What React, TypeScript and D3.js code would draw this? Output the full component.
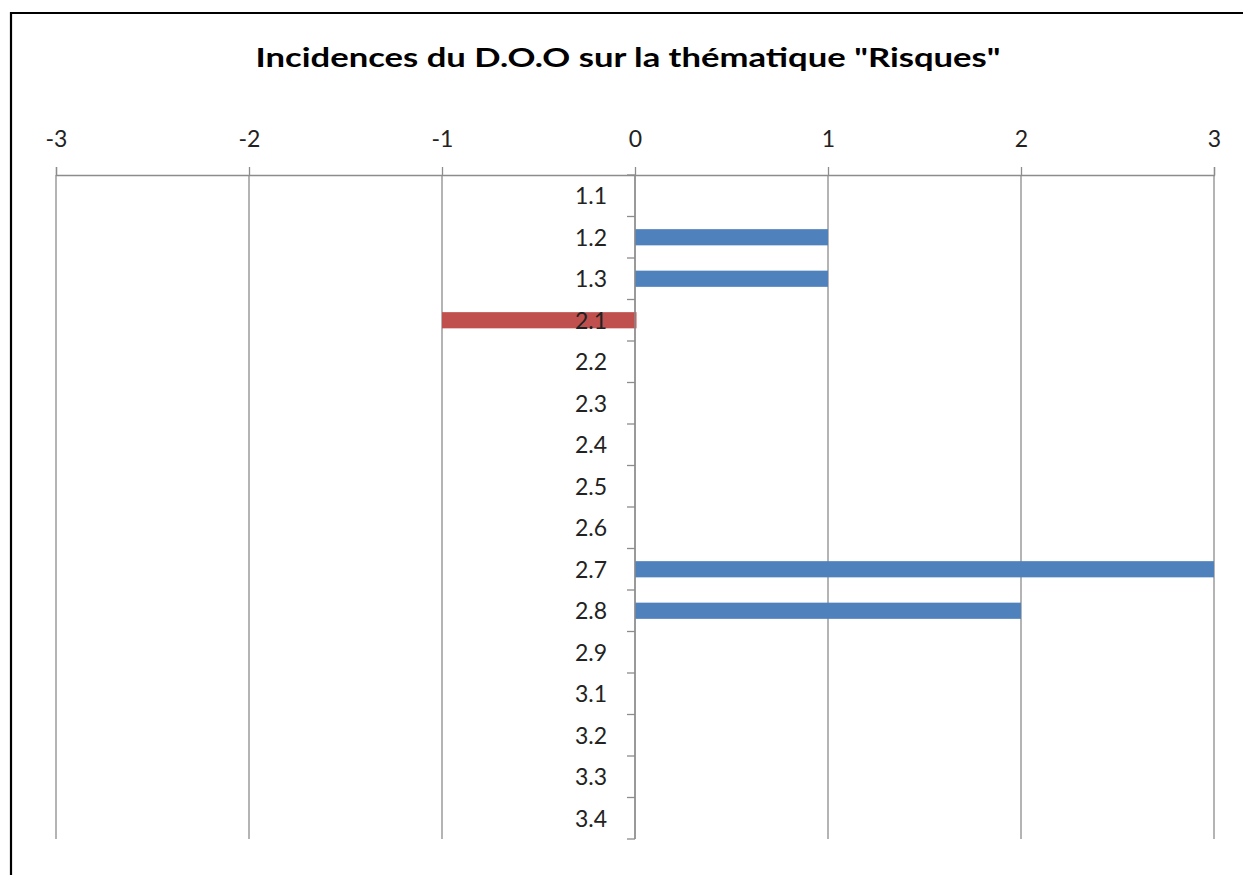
import React, { useEffect, useRef } from "react";
import * as d3 from "d3";

// Incidences du D.O.O sur la thématique "Risques"
const categories = ["1.1", "1.2", "1.3", "2.1", "2.2", "2.3", "2.4", "2.5", "2.6", "2.7", "2.8", "2.9", "3.1", "3.2", "3.3", "3.4"];
const values = [0, 1, 1, -1, 0, 0, 0, 0, 0, 3, 2, 0, 0, 0, 0, 0];
const xTicks = [-3, -2, -1, 0, 1, 2, 3];

const title = 'Incidences du D.O.O sur la thématique "Risques"';
const font = "Lato, 'Open Sans', sans-serif";

const App = () => {
  const svgRef = useRef<SVGSVGElement>(null);

  useEffect(() => {
    const width = 1243;
    const height = 875;
    const margin = { top: 175, right: 29, bottom: 36, left: 56 };

    const svg = d3.select(svgRef.current);
    svg.selectAll("*").remove();

    // frame (only top and left edges are in view)
    svg.append("path")
      .attr("d", `M11,${height} L11,13 L${width},13`)
      .attr("fill", "none")
      .attr("stroke", "#000")
      .attr("stroke-width", 2.2);

    svg.append("text")
      .attr("x", 628)
      .attr("y", 67)
      .attr("text-anchor", "middle")
      .attr("font-family", font)
      .attr("font-weight", "bold")
      .attr("font-size", 27)
      .attr("textLength", 745)
      .attr("lengthAdjust", "spacingAndGlyphs")
      .attr("fill", "#000")
      .text(title);

    const x = d3.scaleLinear()
      .domain([-3, 3])
      .range([margin.left, width - margin.right]);

    const y = d3.scaleBand()
      .domain(categories)
      .range([margin.top, height - margin.bottom])
      .padding(0);

    const grey = "#8c8c8c";

    // vertical gridlines
    svg.append("g")
      .selectAll("line")
      .data(xTicks)
      .join("line")
      .attr("x1", d => x(d)).attr("x2", d => x(d))
      .attr("y1", margin.top).attr("y2", height - margin.bottom)
      .attr("stroke", grey)
      .attr("stroke-width", 1.3);

    // top value axis
    const xAxis = svg.append("g")
      .attr("transform", `translate(0,${margin.top})`)
      .call(d3.axisTop(x).tickValues(xTicks).tickSize(8).tickPadding(20).tickFormat(d => String(d)));
    xAxis.select(".domain").attr("stroke", grey).attr("stroke-width", 1.3);
    xAxis.selectAll(".tick line").attr("stroke", grey).attr("stroke-width", 1.3);
    xAxis.selectAll(".tick text")
      .attr("font-family", font)
      .attr("font-size", 23)
      .attr("fill", "#222");

    // bars
    const barH = y.bandwidth() * 0.39;
    svg.append("g")
      .selectAll("rect")
      .data(values.map((v, i) => ({ cat: categories[i], v })).filter(d => d.v !== 0))
      .join("rect")
      .attr("x", d => x(Math.min(0, d.v)))
      .attr("y", d => (y(d.cat) as number) + (y.bandwidth() - barH) / 2)
      .attr("width", d => Math.abs(x(d.v) - x(0)) + (d.v < 0 ? 1.5 : 0))
      .attr("height", barH)
      .attr("fill", d => (d.v < 0 ? "#C0504D" : "#4F81BD"));

    // category axis at x = 0
    const cat = svg.append("g").attr("transform", `translate(${x(0)},0)`);
    cat.append("line")
      .attr("y1", margin.top).attr("y2", height - margin.bottom)
      .attr("stroke", grey).attr("stroke-width", 1.3);
    const bounds = categories.map(c => y(c) as number).concat([height - margin.bottom]);
    cat.selectAll("line.tk")
      .data(bounds)
      .join("line")
      .attr("class", "tk")
      .attr("x1", -8).attr("x2", 0)
      .attr("y1", d => d).attr("y2", d => d)
      .attr("stroke", grey).attr("stroke-width", 1.3);
    cat.selectAll("text")
      .data(categories)
      .join("text")
      .attr("x", -28)
      .attr("y", d => (y(d) as number) + y.bandwidth() / 2)
      .attr("dy", "0.36em")
      .attr("text-anchor", "end")
      .attr("font-family", font)
      .attr("font-size", 23)
      .attr("fill", "#222")
      .text(d => d);
  }, []);

  return (
    <svg ref={svgRef} width={1243} height={875} style={{ position: "absolute", left: 0, top: 0 }} />
  );
};

export default App;
